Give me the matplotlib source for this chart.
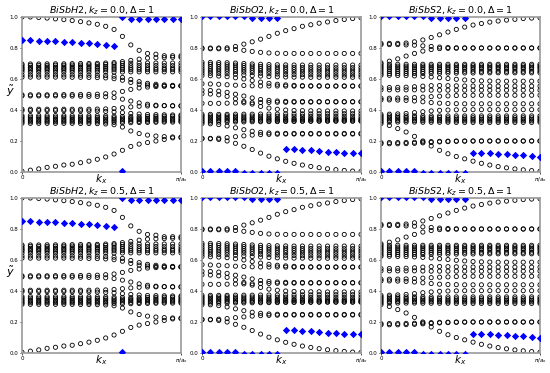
import numpy as np
from matplotlib import pyplot as plt

# momentum grid: 20 k_x samples between 0 and pi/a_x
kx = np.linspace(0, np.pi, 20)

# ---- BiSbH2 : open-circle bands (one list per band, 20 k-points each)
h2_circles = [
    [1.0, 1.0, 0.997, 0.993, 0.988, 0.983, 0.977, 0.97, 0.962, 0.953, 0.94, 0.92, 0.875, 0.82, 0.785, 0.765, 0.76, 0.75, 0.75, 0.75],
    [0.697, 0.697, 0.697, 0.698, 0.698, 0.698, 0.699, 0.7, 0.7, 0.701, 0.703, 0.706, 0.712, 0.72, 0.728, 0.735, 0.737, 0.738, 0.74, 0.74],
    [0.688, 0.688, 0.688, 0.688, 0.689, 0.689, 0.69, 0.69, 0.691, 0.692, 0.694, 0.697, 0.7, 0.702, 0.703, 0.703, 0.703, 0.703, 0.703, 0.703],
    [0.676, 0.676, 0.676, 0.677, 0.677, 0.677, 0.678, 0.678, 0.679, 0.68, 0.681, 0.683, 0.685, 0.686, 0.687, 0.687, 0.687, 0.686, 0.686, 0.686],
    [0.667, 0.667, 0.667, 0.667, 0.668, 0.668, 0.668, 0.669, 0.669, 0.67, 0.67, 0.671, 0.672, 0.672, 0.672, 0.671, 0.671, 0.67, 0.67, 0.67],
    [0.658, 0.658, 0.658, 0.658, 0.658, 0.658, 0.658, 0.658, 0.658, 0.658, 0.659, 0.66, 0.66, 0.66, 0.66, 0.66, 0.66, 0.66, 0.66, 0.66],
    [0.645, 0.645, 0.645, 0.645, 0.645, 0.645, 0.645, 0.645, 0.645, 0.645, 0.645, 0.645, 0.645, 0.646, 0.646, 0.646, 0.646, 0.646, 0.646, 0.646],
    [0.626, 0.626, 0.626, 0.626, 0.626, 0.626, 0.626, 0.625, 0.625, 0.624, 0.622, 0.618, 0.61, 0.597, 0.583, 0.572, 0.566, 0.562, 0.559, 0.557],
    [0.612, 0.612, 0.612, 0.612, 0.612, 0.612, 0.611, 0.611, 0.61, 0.609, 0.607, 0.602, 0.592, 0.578, 0.567, 0.561, 0.558, 0.556, 0.555, 0.555],
    [0.498, 0.498, 0.498, 0.498, 0.499, 0.499, 0.5, 0.5, 0.501, 0.502, 0.505, 0.51, 0.52, 0.533, 0.542, 0.548, 0.551, 0.553, 0.554, 0.555],
    [0.491, 0.491, 0.491, 0.491, 0.491, 0.49, 0.49, 0.489, 0.488, 0.487, 0.485, 0.48, 0.47, 0.458, 0.446, 0.437, 0.431, 0.428, 0.426, 0.425],
    [0.405, 0.405, 0.405, 0.405, 0.405, 0.405, 0.405, 0.405, 0.405, 0.406, 0.407, 0.41, 0.415, 0.42, 0.424, 0.426, 0.427, 0.428, 0.428, 0.428],
    [0.396, 0.396, 0.396, 0.396, 0.396, 0.396, 0.395, 0.395, 0.394, 0.393, 0.391, 0.388, 0.383, 0.378, 0.374, 0.371, 0.37, 0.369, 0.368, 0.368],
    [0.364, 0.364, 0.364, 0.364, 0.364, 0.364, 0.364, 0.364, 0.363, 0.363, 0.362, 0.36, 0.358, 0.357, 0.357, 0.358, 0.359, 0.36, 0.36, 0.36],
    [0.354, 0.354, 0.354, 0.354, 0.354, 0.354, 0.353, 0.353, 0.353, 0.352, 0.351, 0.35, 0.348, 0.347, 0.347, 0.347, 0.348, 0.348, 0.348, 0.348],
    [0.343, 0.343, 0.343, 0.343, 0.343, 0.343, 0.343, 0.343, 0.342, 0.342, 0.341, 0.34, 0.339, 0.338, 0.338, 0.338, 0.338, 0.338, 0.338, 0.338],
    [0.333, 0.333, 0.333, 0.333, 0.333, 0.333, 0.333, 0.333, 0.333, 0.332, 0.331, 0.33, 0.328, 0.327, 0.327, 0.328, 0.328, 0.329, 0.33, 0.33],
    [0.324, 0.324, 0.324, 0.324, 0.324, 0.324, 0.324, 0.324, 0.323, 0.323, 0.322, 0.32, 0.318, 0.318, 0.319, 0.32, 0.321, 0.322, 0.322, 0.322],
    [0.314, 0.314, 0.314, 0.314, 0.314, 0.314, 0.314, 0.313, 0.313, 0.312, 0.31, 0.305, 0.29, 0.265, 0.248, 0.238, 0.232, 0.228, 0.226, 0.225],
    [0.005, 0.012, 0.02, 0.03, 0.037, 0.045, 0.05, 0.06, 0.07, 0.082, 0.097, 0.116, 0.14, 0.165, 0.18, 0.19, 0.2, 0.21, 0.22, 0.222],
]
# BiSbH2 : filled blue markers, (k index, y)
h2_blue_idx = [0, 1, 2, 3, 4, 5, 6, 7, 8, 9, 10, 11, 12, 12, 13, 14, 15, 16, 17, 18, 19]
h2_blue_y = [0.852, 0.849, 0.847, 0.845, 0.842, 0.84, 0.837, 0.834, 0.83, 0.826, 0.82, 0.812,
             1.0, 0.005, 0.985, 0.985, 0.985, 0.985, 0.985, 0.985, 0.985]

# ---- BiSbO2
o2_circles = [
    [0.8, 0.8, 0.8, 0.801, 0.81, 0.825, 0.84, 0.857, 0.875, 0.895, 0.912, 0.925, 0.94, 0.95, 0.96, 0.968, 0.977, 0.984, 0.99, 0.995],
    [0.795, 0.795, 0.795, 0.793, 0.79, 0.785, 0.778, 0.772, 0.768, 0.766, 0.765, 0.765, 0.765, 0.765, 0.765, 0.765, 0.765, 0.765, 0.765, 0.765],
    [0.708, 0.707, 0.706, 0.705, 0.703, 0.7, 0.697, 0.695, 0.693, 0.692, 0.691, 0.69, 0.69, 0.69, 0.69, 0.69, 0.69, 0.69, 0.69, 0.69],
    [0.695, 0.695, 0.694, 0.692, 0.69, 0.687, 0.684, 0.681, 0.679, 0.677, 0.676, 0.675, 0.674, 0.674, 0.673, 0.673, 0.673, 0.673, 0.673, 0.673],
    [0.68, 0.68, 0.679, 0.678, 0.676, 0.673, 0.67, 0.667, 0.665, 0.663, 0.662, 0.661, 0.66, 0.659, 0.659, 0.658, 0.658, 0.658, 0.658, 0.658],
    [0.666, 0.666, 0.665, 0.664, 0.662, 0.659, 0.656, 0.653, 0.65, 0.648, 0.647, 0.646, 0.645, 0.644, 0.644, 0.643, 0.643, 0.643, 0.643, 0.643],
    [0.652, 0.652, 0.651, 0.65, 0.648, 0.645, 0.641, 0.637, 0.634, 0.632, 0.63, 0.629, 0.628, 0.627, 0.627, 0.626, 0.626, 0.626, 0.626, 0.626],
    [0.637, 0.637, 0.636, 0.634, 0.631, 0.627, 0.622, 0.619, 0.616, 0.614, 0.613, 0.612, 0.612, 0.611, 0.611, 0.611, 0.611, 0.611, 0.611, 0.611],
    [0.622, 0.621, 0.619, 0.615, 0.608, 0.6, 0.59, 0.58, 0.572, 0.566, 0.562, 0.559, 0.557, 0.556, 0.556, 0.555, 0.555, 0.555, 0.555, 0.555],
    [0.57, 0.568, 0.566, 0.563, 0.56, 0.558, 0.556, 0.555, 0.555, 0.555, 0.554, 0.554, 0.554, 0.554, 0.554, 0.554, 0.554, 0.554, 0.554, 0.554],
    [0.527, 0.526, 0.522, 0.514, 0.502, 0.49, 0.478, 0.468, 0.462, 0.458, 0.456, 0.455, 0.455, 0.454, 0.454, 0.454, 0.454, 0.454, 0.454, 0.454],
    [0.505, 0.503, 0.498, 0.488, 0.472, 0.455, 0.438, 0.423, 0.412, 0.405, 0.4, 0.397, 0.396, 0.395, 0.395, 0.394, 0.394, 0.394, 0.394, 0.394],
    [0.443, 0.443, 0.443, 0.444, 0.445, 0.446, 0.447, 0.448, 0.449, 0.45, 0.45, 0.451, 0.451, 0.451, 0.452, 0.452, 0.452, 0.452, 0.452, 0.452],
    [0.372, 0.372, 0.372, 0.372, 0.373, 0.373, 0.373, 0.374, 0.374, 0.374, 0.375, 0.375, 0.375, 0.375, 0.376, 0.376, 0.376, 0.376, 0.376, 0.376],
    [0.362, 0.362, 0.362, 0.362, 0.361, 0.361, 0.361, 0.36, 0.36, 0.36, 0.36, 0.36, 0.36, 0.359, 0.359, 0.359, 0.359, 0.359, 0.359, 0.359],
    [0.352, 0.352, 0.352, 0.351, 0.351, 0.35, 0.349, 0.348, 0.347, 0.346, 0.346, 0.345, 0.345, 0.345, 0.344, 0.344, 0.344, 0.344, 0.344, 0.344],
    [0.342, 0.342, 0.342, 0.342, 0.341, 0.341, 0.34, 0.34, 0.34, 0.339, 0.339, 0.338, 0.338, 0.338, 0.337, 0.337, 0.337, 0.337, 0.337, 0.337],
    [0.332, 0.332, 0.332, 0.332, 0.331, 0.331, 0.331, 0.33, 0.33, 0.33, 0.33, 0.329, 0.329, 0.329, 0.329, 0.329, 0.329, 0.329, 0.329, 0.329],
    [0.322, 0.322, 0.322, 0.322, 0.323, 0.323, 0.324, 0.324, 0.325, 0.325, 0.326, 0.326, 0.327, 0.327, 0.328, 0.328, 0.328, 0.328, 0.328, 0.328],
    [0.312, 0.311, 0.306, 0.297, 0.285, 0.273, 0.263, 0.256, 0.252, 0.25, 0.249, 0.249, 0.249, 0.249, 0.249, 0.249, 0.249, 0.249, 0.249, 0.249],
    [0.217, 0.217, 0.218, 0.222, 0.228, 0.233, 0.238, 0.241, 0.243, 0.244, 0.245, 0.245, 0.245, 0.245, 0.245, 0.245, 0.245, 0.245, 0.245, 0.245],
    [0.215, 0.214, 0.21, 0.2, 0.185, 0.166, 0.145, 0.122, 0.102, 0.085, 0.069, 0.056, 0.045, 0.036, 0.028, 0.021, 0.015, 0.01, 0.006, 0.004],
]
o2_blue_idx = [0, 1, 2, 3, 4, 5, 6, 7, 8, 9,
               0, 1, 2, 3, 4, 5, 6, 7, 8, 9,
               10, 11, 12, 13, 14, 15, 16, 17, 18, 19]
o2_blue_y = [1.004, 1.004, 1.004, 1.004, 1.004, 1.004, 0.993, 0.992, 0.992, 0.992,
             0.007, 0.007, 0.006, 0.006, 0.004, -0.004, -0.004, -0.005, -0.005, -0.005,
             0.15, 0.148, 0.145, 0.14, 0.135, 0.132, 0.128, 0.125, 0.122, 0.12]

# ---- BiSbS2
s2_circles = [
    [0.83, 0.83, 0.83, 0.832, 0.84, 0.852, 0.868, 0.885, 0.903, 0.92, 0.935, 0.948, 0.958, 0.967, 0.974, 0.98, 0.985, 0.99, 0.993, 0.995],
    [0.822, 0.822, 0.822, 0.82, 0.818, 0.814, 0.81, 0.806, 0.803, 0.801, 0.8, 0.8, 0.8, 0.8, 0.8, 0.8, 0.8, 0.8, 0.8, 0.8],
    [0.705, 0.715, 0.73, 0.748, 0.765, 0.78, 0.79, 0.796, 0.798, 0.799, 0.8, 0.8, 0.8, 0.8, 0.8, 0.8, 0.8, 0.8, 0.8, 0.8],
    [0.695, 0.695, 0.695, 0.695, 0.695, 0.695, 0.695, 0.695, 0.695, 0.695, 0.695, 0.695, 0.695, 0.695, 0.695, 0.695, 0.695, 0.695, 0.695, 0.695],
    [0.683, 0.683, 0.683, 0.683, 0.683, 0.684, 0.684, 0.684, 0.684, 0.685, 0.685, 0.685, 0.685, 0.685, 0.685, 0.685, 0.685, 0.685, 0.685, 0.685],
    [0.672, 0.672, 0.672, 0.672, 0.672, 0.673, 0.673, 0.673, 0.674, 0.674, 0.674, 0.675, 0.675, 0.675, 0.675, 0.675, 0.675, 0.675, 0.675, 0.675],
    [0.66, 0.66, 0.66, 0.66, 0.661, 0.661, 0.662, 0.662, 0.663, 0.663, 0.664, 0.664, 0.665, 0.665, 0.665, 0.665, 0.665, 0.665, 0.665, 0.665],
    [0.648, 0.648, 0.648, 0.648, 0.648, 0.648, 0.649, 0.649, 0.649, 0.649, 0.65, 0.65, 0.65, 0.65, 0.65, 0.65, 0.65, 0.65, 0.65, 0.65],
    [0.635, 0.635, 0.635, 0.635, 0.636, 0.636, 0.637, 0.637, 0.638, 0.638, 0.639, 0.639, 0.64, 0.64, 0.64, 0.64, 0.64, 0.64, 0.64, 0.64],
    [0.624, 0.624, 0.623, 0.622, 0.62, 0.617, 0.613, 0.608, 0.603, 0.598, 0.594, 0.59, 0.588, 0.587, 0.586, 0.586, 0.586, 0.586, 0.586, 0.586],
    [0.545, 0.545, 0.546, 0.547, 0.55, 0.554, 0.557, 0.558, 0.557, 0.556, 0.555, 0.555, 0.554, 0.554, 0.554, 0.554, 0.554, 0.554, 0.554, 0.554],
    [0.53, 0.53, 0.53, 0.53, 0.53, 0.529, 0.528, 0.528, 0.528, 0.528, 0.528, 0.528, 0.528, 0.528, 0.528, 0.528, 0.528, 0.528, 0.528, 0.528],
    [0.476, 0.476, 0.477, 0.478, 0.48, 0.483, 0.486, 0.489, 0.491, 0.493, 0.494, 0.495, 0.495, 0.495, 0.495, 0.495, 0.495, 0.495, 0.495, 0.495],
    [0.465, 0.465, 0.464, 0.462, 0.458, 0.453, 0.448, 0.444, 0.442, 0.441, 0.44, 0.44, 0.44, 0.44, 0.44, 0.44, 0.44, 0.44, 0.44, 0.44],
    [0.372, 0.373, 0.375, 0.378, 0.383, 0.389, 0.394, 0.398, 0.4, 0.401, 0.402, 0.402, 0.402, 0.402, 0.402, 0.402, 0.402, 0.402, 0.402, 0.402],
    [0.362, 0.362, 0.362, 0.362, 0.362, 0.362, 0.362, 0.362, 0.362, 0.362, 0.362, 0.362, 0.362, 0.362, 0.362, 0.362, 0.362, 0.362, 0.362, 0.362],
    [0.352, 0.352, 0.352, 0.352, 0.351, 0.351, 0.351, 0.351, 0.35, 0.35, 0.35, 0.35, 0.35, 0.35, 0.35, 0.35, 0.35, 0.35, 0.35, 0.35],
    [0.342, 0.342, 0.342, 0.342, 0.341, 0.341, 0.341, 0.34, 0.34, 0.34, 0.34, 0.34, 0.34, 0.34, 0.34, 0.34, 0.34, 0.34, 0.34, 0.34],
    [0.332, 0.332, 0.332, 0.332, 0.331, 0.331, 0.331, 0.331, 0.33, 0.33, 0.33, 0.33, 0.33, 0.33, 0.33, 0.33, 0.33, 0.33, 0.33, 0.33],
    [0.322, 0.322, 0.322, 0.322, 0.322, 0.321, 0.321, 0.321, 0.321, 0.32, 0.32, 0.32, 0.32, 0.32, 0.32, 0.32, 0.32, 0.32, 0.32, 0.32],
    [0.312, 0.3, 0.28, 0.258, 0.23, 0.2, 0.168, 0.14, 0.118, 0.1, 0.085, 0.07, 0.056, 0.045, 0.035, 0.027, 0.02, 0.014, 0.009, 0.005],
    [0.19, 0.19, 0.19, 0.191, 0.192, 0.194, 0.196, 0.198, 0.199, 0.2, 0.2, 0.2, 0.2, 0.2, 0.2, 0.2, 0.2, 0.2, 0.2, 0.2],
    [0.182, 0.182, 0.182, 0.183, 0.185, 0.188, 0.191, 0.194, 0.196, 0.198, 0.199, 0.2, 0.2, 0.2, 0.2, 0.2, 0.2, 0.2, 0.2, 0.2],
]
s2_blue_idx = [0, 1, 2, 3, 4, 5, 6, 7, 8, 9, 10,
               0, 1, 2, 3, 4, 5, 6, 7, 8, 9, 10,
               11, 12, 13, 14, 15, 16, 17, 18, 19]
s2_blue_y = [1.004, 1.004, 1.004, 1.004, 1.004, 1.004, 0.993, 0.993, 0.992, 0.992, 0.992,
             0.007, 0.007, 0.006, 0.006, 0.004, -0.004, -0.004, -0.004, -0.005, -0.005, -0.005,
             0.125, 0.122, 0.12, 0.117, 0.114, 0.111, 0.108, 0.104, 0.1]

names = ["BiSbH2", "BiSbO2", "BiSbS2"]
kz_values = ["0.0", "0.5"]
panels = [(h2_circles, h2_blue_idx, h2_blue_y),
          (o2_circles, o2_blue_idx, o2_blue_y),
          (s2_circles, s2_blue_idx, s2_blue_y)]

fig = plt.figure(figsize=(5.5, 3.73), dpi=100)
lefts = [22, 202, 381]
bottoms = [172, 353]
for r, kz in enumerate(kz_values):
    for c, name in enumerate(names):
        ax = fig.add_axes([lefts[c] / 550, 1 - bottoms[r] / 373, 159 / 550, 155 / 373])
        circles, bidx, by = panels[c]
        for band in circles:
            ax.scatter(kx, band, s=9, facecolors='none', edgecolors='k', linewidths=0.6, zorder=2)
        ax.scatter(kx[bidx], by, s=14, marker='D', c='blue', linewidths=0, zorder=3)
        ax.set_xlim(0, np.pi)
        ax.set_ylim(0, 1)
        ax.set_xticks([0, np.pi])
        ax.set_xticklabels(["0", r"$\pi/a_x$"])
        ax.set_yticks([0, 0.2, 0.4, 0.6, 0.8, 1.0])
        ax.tick_params(labelsize=4, length=1.5, width=0.5, pad=1)
        for sp in ax.spines.values():
            sp.set_color('0.6')
            sp.set_linewidth(1.2)
        ax.set_title(r"$%s, k_z = %s, \Delta = 1$" % (name, kz), fontsize=6.8, pad=1)
        ax.set_xlabel(r"$k_x$", fontsize=7.5, labelpad=-9)
        if c == 0:
            ax.set_ylabel(r"$\tilde{y}$", fontsize=8, rotation=0)
            ax.yaxis.set_label_coords(-0.075, 0.47)

plt.savefig("out.png", dpi=100)
